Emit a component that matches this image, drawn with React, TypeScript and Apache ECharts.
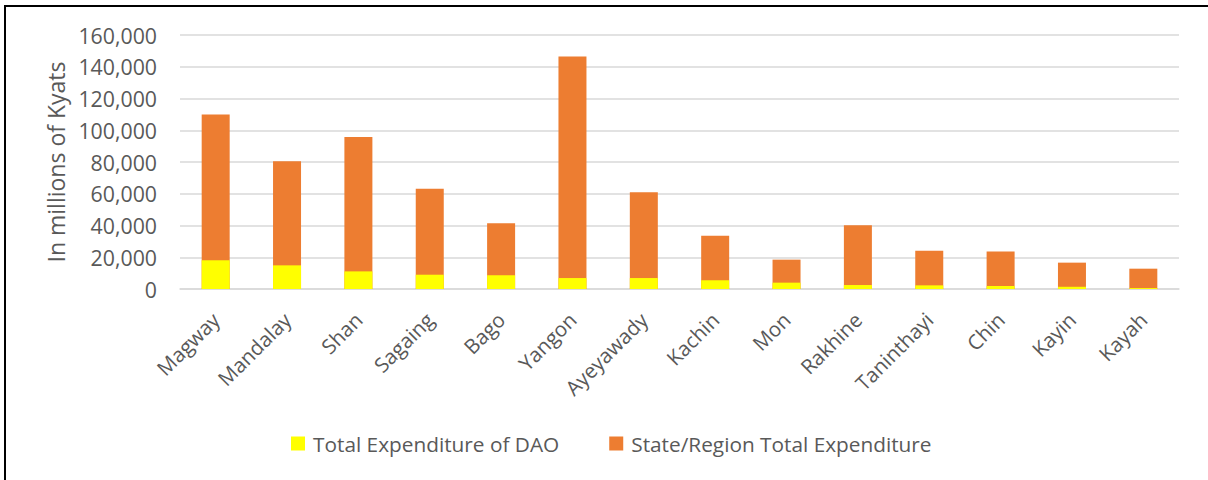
import React, { useEffect, useRef } from "react";
import * as echarts from "echarts";

const categories = [
  "Magway", "Mandalay", "Shan", "Sagaing", "Bago", "Yangon", "Ayeyawady",
  "Kachin", "Mon", "Rakhine", "Taninthayi", "Chin", "Kayin", "Kayah",
];
const daoExpenditure = [18100, 14900, 11100, 9000, 8600, 6900, 6900, 5500, 4000, 2500, 2300, 1900, 1400, 600];
const stateRegionTotal = [110000, 80400, 95700, 63200, 41400, 146400, 60900, 33600, 18500, 40200, 24100, 23700, 16600, 12800];
const yTicks = { min: 0, max: 160000, interval: 20000 };
const seriesNames = ["Total Expenditure of DAO", "State/Region Total Expenditure"];

const FONT = "'Open Sans', sans-serif";
const TXT = "#595959";

export default function App() {
  const ref = useRef<HTMLDivElement>(null);
  useEffect(() => {
    document.body.style.margin = "0";
    if (!ref.current) return;
    const chart = echarts.init(ref.current, null, { renderer: "svg" });
    chart.setOption({
      animation: false,
      backgroundColor: "#ffffff",
      textStyle: { fontFamily: FONT },
      grid: { left: 180, right: 29, top: 35, bottom: 191, containLabel: false },
      legend: {
        data: seriesNames,
        left: 291,
        top: 433,
        padding: 0,
        itemWidth: 14,
        itemHeight: 14,
        itemGap: 50,
        icon: "rect",
        textStyle: { fontFamily: FONT, fontSize: 20.8, color: TXT, padding: [0, 0, 0, 3] },
      },
      xAxis: {
        type: "category",
        data: categories,
        axisLine: { show: true, lineStyle: { color: "#d9d9d9", width: 1.5 } },
        axisTick: { show: false },
        axisLabel: {
          rotate: 45,
          interval: 0,
          margin: 27,
          color: TXT,
          fontSize: 20.5,
          fontFamily: FONT,
        },
      },
      yAxis: {
        type: "value",
        min: yTicks.min,
        max: yTicks.max,
        interval: yTicks.interval,
        name: "In millions of Kyats",
        nameLocation: "middle",
        nameRotate: 90,
        nameGap: 111,
        nameTextStyle: { fontFamily: FONT, fontSize: 23, color: TXT },
        axisLine: { show: false },
        axisTick: { show: false },
        splitLine: { show: true, lineStyle: { color: "#d9d9d9", width: 1.5 } },
        axisLabel: {
          margin: 23,
          color: TXT,
          fontSize: 21.3,
          fontFamily: FONT,
          formatter: (v: number) => v.toLocaleString("en-US"),
        },
      },
      series: [
        {
          name: seriesNames[1],
          type: "bar",
          data: stateRegionTotal,
          barWidth: 28,
          barGap: "-100%",
          z: 2,
          itemStyle: { color: "#ED7D31" },
        },
        {
          name: seriesNames[0],
          type: "bar",
          data: daoExpenditure,
          barWidth: 28,
          barGap: "-100%",
          z: 3,
          itemStyle: { color: "#FFFF00" },
        },
      ],
    });
    return () => chart.dispose();
  }, []);
  return (
    <div style={{ position: "absolute", left: 0, top: 0, width: 1208, height: 480, background: "#fff" }}>
      <div ref={ref} style={{ position: "absolute", left: 0, top: 0, width: 1208, height: 480 }} />
      <div
        style={{
          position: "absolute",
          left: 4,
          top: 5,
          width: 1204,
          height: 475,
          borderTop: "2px solid #000",
          borderLeft: "2px solid #000",
          boxSizing: "border-box",
          pointerEvents: "none",
        }}
      />
    </div>
  );
}
